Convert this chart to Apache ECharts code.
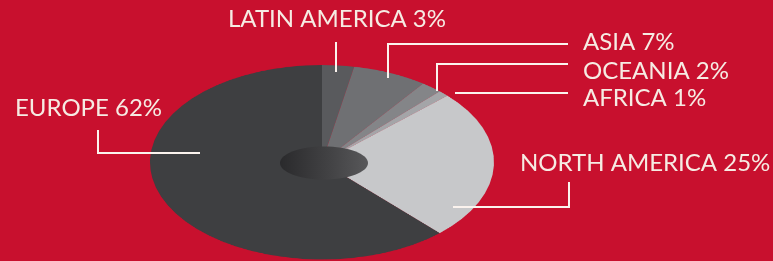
<!DOCTYPE html>
<html>
<head>
<meta charset="utf-8">
<script src="https://cdn.jsdelivr.net/npm/echarts@6/dist/echarts.min.js"></script>
<style>
  html, body { margin: 0; padding: 0; }
  #wrap { position: relative; width: 773px; height: 261px; background: #c8102e; overflow: hidden; }
  /* pie is drawn round, then squashed into the tilted ellipse */
  #pie { position: absolute; left: 0; top: 0; width: 773px; height: 462px;
         transform: scaleY(0.5652); transform-origin: 0 0; }
  #labels { position: absolute; left: 0; top: 0; width: 773px; height: 261px; }
</style>
</head>
<body>
<div id="wrap">
  <div id="pie"></div>
  <div id="labels"></div>
</div>
<script>
// data, clockwise from 12 o'clock
const regions = ['LATIN AMERICA', 'ASIA', 'OCEANIA', 'AFRICA', 'NORTH AMERICA', 'EUROPE'];
const shares = [3, 7, 2, 1, 25, 62];
const colors = ['#595a5d', '#6f7073', '#848588', '#a4a5a8', '#c7c8ca', '#3e3f41'];

// label layout: text position (left, caps middle) and leader line points
const labelPos = [
  { x: 228, y: 19, line: [[336, 42], [336, 72]] },
  { x: 583, y: 42, line: [[568, 44], [388, 44], [388, 78]] },
  { x: 583, y: 71, line: [[568, 64], [437, 64], [437, 91]] },
  { x: 583, y: 98, line: [[568, 93], [455, 93]] },
  { x: 520, y: 163, line: [[453, 207], [569, 207], [569, 182]] },
  { x: 15, y: 108, line: [[98, 130], [98, 153], [200, 153]] }
];

const pieChart = echarts.init(document.getElementById('pie'));
pieChart.setOption({
  animation: false,
  series: [{
    type: 'pie',
    center: ['322px', '287px'],
    radius: [0, 172],
    startAngle: 90,
    clockwise: true,
    silent: true,
    label: { show: false },
    labelLine: { show: false },
    itemStyle: { borderWidth: 0 },
    data: regions.map((name, i) => ({
      name: name,
      value: shares[i],
      itemStyle: { color: colors[i] }
    }))
  }]
});

const labelChart = echarts.init(document.getElementById('labels'));
let graphics = [];
// the dark hole in the middle
graphics.push({
  type: 'ellipse',
  shape: { cx: 324, cy: 163, rx: 44, ry: 16.5 },
  style: {
    fill: new echarts.graphic.LinearGradient(0, 0, 1, 0, [
      { offset: 0, color: '#2a2a2c' },
      { offset: 0.6, color: '#444446' },
      { offset: 1, color: '#58585a' }
    ])
  },
  silent: true
});
regions.forEach((name, i) => {
  const p = labelPos[i];
  graphics.push({
    type: 'polyline',
    shape: { points: p.line },
    style: { stroke: '#fbf3ee', lineWidth: 2, fill: null },
    silent: true
  });
  graphics.push({
    type: 'text',
    x: p.x,
    y: p.y,
    style: {
      text: name + ' ' + shares[i] + '%',
      font: '24px Lato',
      fill: '#f6ebe3',
      align: 'left',
      verticalAlign: 'middle'
    },
    silent: true
  });
});
labelChart.setOption({
  animation: false,
  graphic: graphics
});
</script>
</body>
</html>
